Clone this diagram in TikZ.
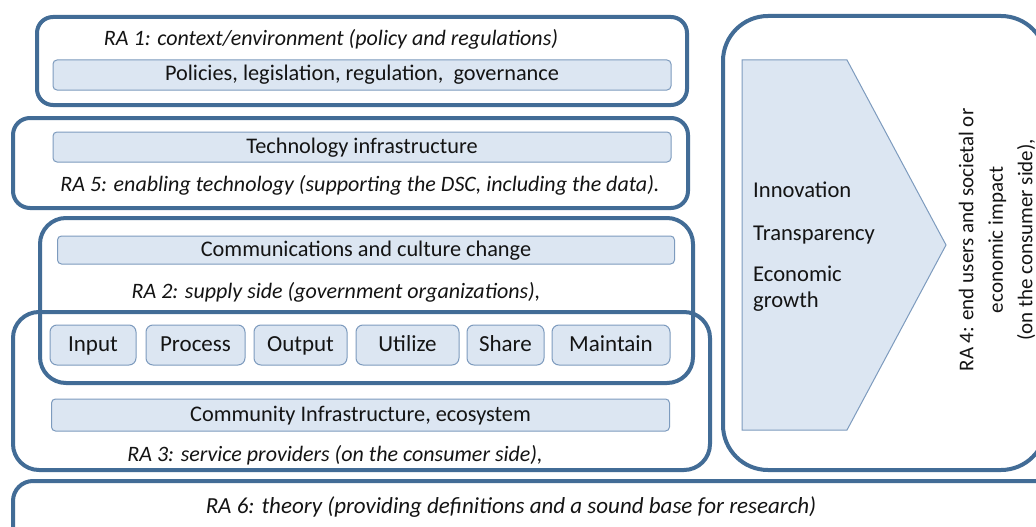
\documentclass[tikz,border=0pt]{standalone}
\usepackage{fontspec}
\setmainfont{Carlito}
\definecolor{frameblue}{RGB}{66,108,150}
\definecolor{barfill}{RGB}{220,230,242}
\definecolor{barline}{RGB}{125,155,190}
\definecolor{txt}{RGB}{20,20,20}
\newcommand{\fs}[1]{\fontsize{#1}{#1}\selectfont}
\tikzset{
  frame/.style={draw=frameblue, line width=4pt, inner sep=0pt},
  bar/.style={draw=barline, fill=barfill, line width=1pt, rounded corners=4pt, inner sep=0pt, text=txt, font=\fs{22.3}, text height=16pt, text depth=4pt},
  pbox/.style={draw=barline, fill=barfill, line width=1pt, rounded corners=7pt, inner sep=0pt, text=txt, font=\fs{23}, text height=16pt, text depth=4pt},
  ralabel/.style={inner sep=0pt, text=txt, text height=16pt, text depth=4pt},
  chevtext/.style={inner sep=0pt, text=txt, font=\fs{22.6}, anchor=base west},
}
\begin{document}
\begin{tikzpicture}[x=1pt,y=-1pt]
\useasboundingbox[fill=white] (0,0) rectangle (1036,527);
% frames
\draw[frame, rounded corners=16pt] (37,17) rectangle (687,105);
\draw[frame, rounded corners=17pt] (13,118) rectangle (688,208);
\draw[frame, rounded corners=26pt] (40,218) rectangle (693,383);
\draw[frame, rounded corners=26pt] (13,312) rectangle (710,470);
\begin{scope}
\clip (0,0) rectangle (1036,527);
\draw[frame, rounded corners=45pt] (723,16) rectangle (1046,470);
\draw[frame, rounded corners=20pt] (13,481) rectangle (1060,560);
\end{scope}
% RA1
\node[ralabel, font=\fs{22}\itshape] (ra1) at (331,40) {RA 1: context/environment (policy and regulations)};
\node[bar, minimum width=618pt, minimum height=30pt] (pol) at (362,75) {Policies, legislation, regulation,\ \ governance};
% RA5
\node[bar, minimum width=618pt, minimum height=30pt] (tech) at (362,147) {Technology infrastructure};
\node[ralabel, font=\fs{22}\itshape] (ra5) at (360,185) {RA 5: enabling technology (supporting the DSC, including the data).};
% RA2
\node[bar, minimum width=617pt, minimum height=28pt] (comm) at (366,250) {Communications and culture change};
\node[ralabel, font=\fs{22}\itshape] (ra2) at (336,292) {RA 2: supply side (government organizations),};
% process boxes
\node[pbox, minimum width=86pt, minimum height=40pt] (in) at (93,345) {Input};
\node[pbox, minimum width=99pt, minimum height=40pt] (pr) at (195.5,345) {Process};
\node[pbox, minimum width=93pt, minimum height=40pt] (out) at (300.5,345) {Output};
\node[pbox, minimum width=103pt, minimum height=40pt] (ut) at (407.5,345) {Utilize};
\node[pbox, minimum width=77pt, minimum height=40pt] (sh) at (505.5,345) {Share};
\node[pbox, minimum width=118pt, minimum height=40pt] (mt) at (611,345) {Maintain};
% RA3
\node[bar, minimum width=618pt, minimum height=32pt] (comy) at (360.5,415) {Community Infrastructure, ecosystem};
\node[ralabel, font=\fs{22}\itshape] (ra3) at (335,455) {RA 3: service providers (on the consumer side),};
% RA6
\node[ralabel, font=\fs{23}\itshape] (ra6) at (511,507) {RA 6: theory (providing definitions and a sound base for research)};
% chevron
\draw[draw=barline, fill=barfill, line width=1pt] (742,60) -- (847,60) -- (946,245) -- (847,430) -- (742,430) -- cycle;
\node[chevtext] (inn) at (753,197) {Innovation};
\node[chevtext] (tra) at (753,240) {Transparency};
\node[chevtext] (eco) at (753,281) {Economic};
\node[chevtext] (gro) at (753,307) {growth};
% RA4
\node[inner sep=0pt, text=txt, rotate=90, align=center, font=\fontsize{21}{29.5}\selectfont] (ra4) at (997,240) {RA 4: end users and societal or\\economic impact\\(on the consumer side),};
\end{tikzpicture}
\end{document}
